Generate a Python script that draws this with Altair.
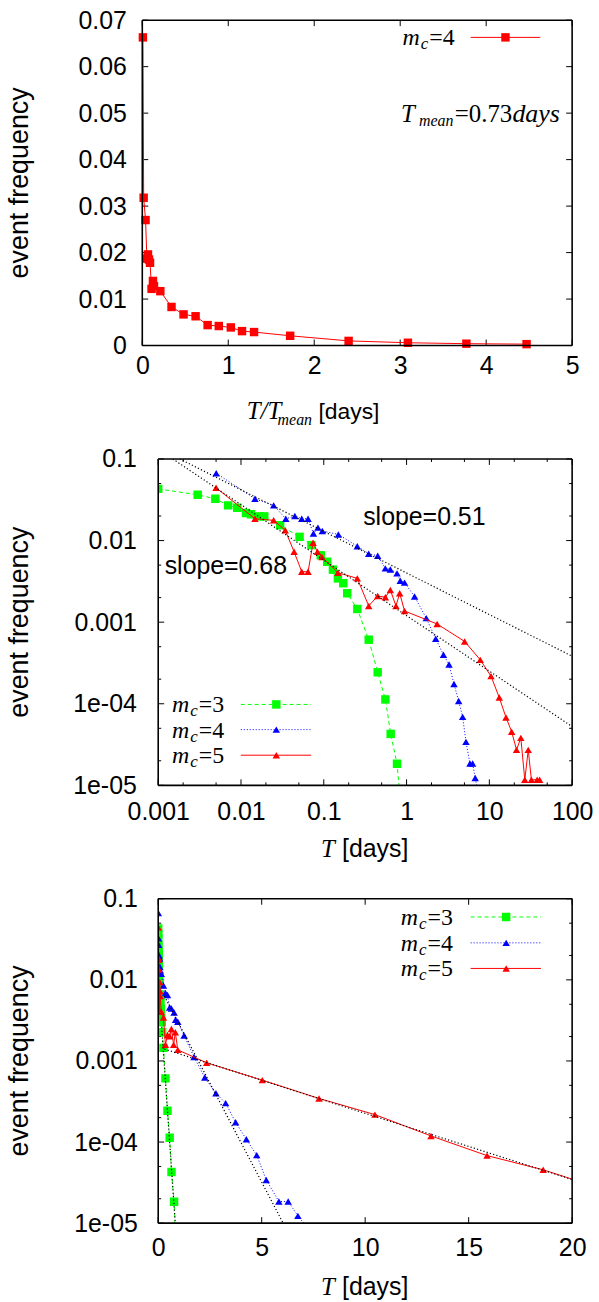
import altair as alt
import pandas as pd

SANS = "Liberation Sans"
SERIF = "Liberation Serif"
FS = 25

# ---------------- data ----------------
# Panel 1: m_c = 4, event frequency vs T/T_mean
p1_t = [0.007, 0.016, 0.038, 0.054, 0.066, 0.078, 0.090, 0.108, 0.124, 0.136,
        0.21, 0.34, 0.48, 0.62, 0.76, 0.89, 1.03, 1.16, 1.30, 1.72,
        2.40, 3.09, 3.77, 4.47]
p1_f = [0.0663, 0.0318, 0.0270, 0.0187, 0.0196, 0.0185, 0.0178, 0.0122, 0.0139, 0.0128,
        0.0117, 0.0083, 0.0067, 0.0063, 0.0044, 0.0042, 0.0039, 0.0031, 0.0029, 0.0021,
        0.0010, 0.0006, 0.0004, 0.0003]

# Panels 2 and 3: event frequency vs T [days]
m3_t = [0.001, 0.0030, 0.0049, 0.0070, 0.0090, 0.0115, 0.0132, 0.0166, 0.0191, 0.0297,
        0.051, 0.071, 0.092, 0.110, 0.129, 0.148, 0.172, 0.192, 0.254, 0.349,
        0.448, 0.555, 0.643, 0.767, 0.86]
m3_f = [0.043, 0.0364, 0.0325, 0.027, 0.0252, 0.0218, 0.021, 0.0198, 0.0198, 0.0154,
        0.0111, 0.0088, 0.0066, 0.0055, 0.0044, 0.00344, 0.0030, 0.00226, 0.00145, 0.00061,
        0.000243, 0.000113, 4.27e-5, 1.84e-5, 5e-6]

m4_t = [0.00502, 0.01476, 0.0248, 0.0348, 0.0447, 0.0542, 0.0646, 0.075, 0.085, 0.096,
        0.150, 0.254, 0.349, 0.448, 0.554, 0.637, 0.767, 0.84, 0.946, 1.25,
        1.73, 2.25, 2.79, 3.26, 3.74, 4.26, 4.76, 5.22, 5.83, 6.28,
        6.75, 7.4]
m4_f = [0.0669, 0.0325, 0.027, 0.0185, 0.020, 0.0185, 0.0185, 0.0122, 0.0144, 0.0131,
        0.0119, 0.0085, 0.0069, 0.0065, 0.00456, 0.00443, 0.00396, 0.00322, 0.00305, 0.00206,
        0.00112, 0.000625, 0.000399, 0.000302, 0.000175, 0.000108, 6.9e-5, 3.41e-5, 1.85e-5, 1.85e-5,
        1.23e-5, 7.6e-6]

m5_t = [0.0050, 0.01476, 0.0248, 0.0342, 0.0438, 0.0542, 0.0646, 0.0742, 0.0838, 0.095,
        0.148, 0.254, 0.349, 0.448, 0.554, 0.637, 0.745, 0.826, 0.946, 2.34,
        5.03, 7.77, 10.47, 13.18, 15.89, 18.6, 21.3, 24.0, 26.8, 29.5,
        32.2, 37.8, 40.5]
m5_f = [0.0443, 0.0185, 0.0177, 0.0134, 0.00728, 0.00415, 0.00415, 0.00938, 0.00728, 0.0063,
        0.00404, 0.00344, 0.00158, 0.00209, 0.00202, 0.00248, 0.00158, 0.00226, 0.00137, 0.00095,
        0.00058, 0.000345, 0.000218, 0.000119, 6.8e-5, 4.55e-5, 2.72e-5, 3.82e-5, 1.17e-5, 2.72e-5,
        1.17e-5, 1.17e-5, 1.17e-5]

# fitted lines (end points)
fit051_t = [0.00182, 100.0]
fit051_f = [0.1, 3.83e-4]
fit068_t = [0.0015, 100.0]
fit068_f = [0.1, 5.25e-5]
fexp3_t = [0.17, 0.83]
fexp3_f = [2.6e-3, 9.5e-6]
fexp4_t = [0.3, 6.1]
fexp4_f = [6.3e-3, 9.3e-6]
fexp5_t = [0.3, 20.0]
fexp5_f = [1.4e-3, 3.45e-5]

# ticks and labels
p1_xticks = [0, 1, 2, 3, 4, 5]
p1_xlabels = ["0", "1", "2", "3", "4", "5"]
p1_yticks = [0, 0.01, 0.02, 0.03, 0.04, 0.05, 0.06, 0.07]
p1_ylabels = ["0", "0.01", "0.02", "0.03", "0.04", "0.05", "0.06", "0.07"]
logx_major = [0.001, 0.01, 0.1, 1, 10, 100]
logx_labels = ["0.001", "0.01", "0.1", "1", "10", "100"]
logx_minor = [0.002, 0.005, 0.02, 0.05, 0.2, 0.5, 2, 5, 20, 50]
logy_major = [1e-5, 1e-4, 1e-3, 1e-2, 1e-1]
logy_labels = ["1e-05", "1e-04", "0.001", "0.01", "0.1"]
logy_minor = [2e-5, 5e-5, 2e-4, 5e-4, 2e-3, 5e-3, 0.02, 0.05]
linx_major = [0, 5, 10, 15, 20]
linx_labels = ["0", "5", "10", "15", "20"]

GREEN = "#00ff00"
BLUE = "#0000ff"
RED = "#ff0000"


def label_expr(vals, labels):
    parts = []
    for v, l in zip(vals, labels):
        tol = abs(v) * 1e-6 + 1e-12
        parts.append(f"abs(datum.value - {v!r}) < {tol!r} ? '{l}'")
    return " : ".join(parts) + " : ''"


def make_axis(vals, labels, pad, offset=0):
    kw = dict(values=vals, labelExpr=label_expr(vals, labels), ticks=False,
              domain=False, grid=False, labelFont=SANS, labelFontSize=FS,
              labelColor="black", labelPadding=pad, labelFlush=False,
              labelOverlap=False, title=None)
    if offset:
        kw["offset"] = offset
    return alt.Axis(**kw)


one = pd.DataFrame({"a": [0]})


def txt(s, x, y, size=FS, font=SANS, style="normal", align="left",
        baseline="alphabetic", angle=0):
    kw = dict(text=s, font=font, fontSize=size, fontStyle=style, align=align,
              baseline=baseline, color="black")
    if angle:
        kw["angle"] = angle
    return alt.Chart(one).mark_text(**kw).encode(x=alt.value(x), y=alt.value(y))


def mc_label(xr, yc, digit, size=24, sub=17):
    base = yc + 8
    w_eq = 1.064 * size
    return [txt("=" + digit, xr, base, size, SERIF, "normal", "right"),
            txt("c", xr - w_eq - 1, base + 4, sub, SERIF, "italic", "right"),
            txt("m", xr - w_eq - 0.444 * sub - 2, base, size, SERIF, "italic", "right")]


def legend_sample(x1, x2, xm, yc, color, shape, size, dash=None):
    rk = dict(color=color, strokeWidth=1)
    if dash:
        rk["strokeDash"] = dash
    line = alt.Chart(one).mark_rule(**rk).encode(
        x=alt.value(x1), x2=alt.value(x2), y=alt.value(yc))
    pt = alt.Chart(one).mark_point(shape=shape, filled=True, size=size, color=color,
                                   opacity=1).encode(x=alt.value(xm), y=alt.value(yc))
    return [line, pt]


def series(t, f, color, shape, size, XE, YE, dash=None, clip=True):
    df = pd.DataFrame({"T": t, "f": f, "i": list(range(len(t)))})
    lk = dict(color=color, strokeWidth=1, clip=clip)
    if dash:
        lk["strokeDash"] = dash
    line = alt.Chart(df).mark_line(**lk).encode(x=XE, y=YE, order="i:Q")
    pts = alt.Chart(df).mark_point(shape=shape, filled=True, size=size, color=color,
                                   opacity=1, clip=clip).encode(x=XE, y=YE)
    return [line, pts]


def fit(t, f, XE, YE):
    df = pd.DataFrame({"T": t, "f": f, "i": [0, 1]})
    return alt.Chart(df).mark_line(color="black", strokeWidth=1.2, strokeDash=[1.2, 2.2],
                                   clip=True).encode(x=XE, y=YE, order="i:Q")


def tick_layers(x0, W, H, XE, YE, xmaj, xmin, ymaj, ymin, L=6, l=3):
    out = []
    for vals, ln in ((xmaj, L), (xmin, l)):
        if not vals:
            continue
        df = pd.DataFrame({"T": vals})
        out.append(alt.Chart(df).mark_rule(color="black", strokeWidth=1).encode(
            x=XE, y=alt.value(H), y2=alt.value(H - ln)))
        out.append(alt.Chart(df).mark_rule(color="black", strokeWidth=1).encode(
            x=XE, y=alt.value(0), y2=alt.value(ln)))
    for vals, ln in ((ymaj, L), (ymin, l)):
        if not vals:
            continue
        df = pd.DataFrame({"f": vals})
        out.append(alt.Chart(df).mark_rule(color="black", strokeWidth=1).encode(
            y=YE, x=alt.value(x0), x2=alt.value(x0 + ln)))
        out.append(alt.Chart(df).mark_rule(color="black", strokeWidth=1).encode(
            y=YE, x=alt.value(W), x2=alt.value(W - ln)))
    return out


def frame(x0, W, H):
    def r(xa, ya, xb, yb):
        return alt.Chart(one).mark_rule(color="black", strokeWidth=1.6).encode(
            x=alt.value(xa), y=alt.value(ya), x2=alt.value(xb), y2=alt.value(yb))
    return [r(x0, 0, W, 0), r(x0, H, W, H), r(x0, 0, x0, H), r(W, 0, W, H)]


def bounds_box(W, H, left, top, bottom):
    return alt.Chart(one).mark_rule(opacity=0).encode(
        x=alt.value(-left), y=alt.value(-top), x2=alt.value(W), y2=alt.value(H + bottom))


TOP = 16
LEFT = 152

# ---------------- panel 1 ----------------
# plot area starts 16 px left of the common origin used by panels 2 and 3
X0 = -16
W1, H1 = 416, 327
xs1 = alt.Scale(domain=[0, 5], nice=False, zero=False, range=[X0, W1])
ys1 = alt.Scale(domain=[0, 0.07], nice=False, zero=False)
XE1 = alt.X("T:Q", scale=xs1, axis=make_axis(p1_xticks, p1_xlabels, 8))
YE1 = alt.Y("f:Q", scale=ys1, axis=make_axis(p1_yticks, p1_ylabels, 16, -X0))
L1 = tick_layers(X0, W1, H1, XE1, YE1, p1_xticks, [], p1_yticks, [])
L1 += series(p1_t, p1_f, RED, "square", 72, XE1, YE1, clip=False)
L1 += frame(X0, W1, H1)
L1 += mc_label(298, 17.3, "4")
L1 += legend_sample(314, 384, 349, 17.3, RED, "square", 72)
L1 += [txt("T", 244, 102, 25, SERIF, "italic"),
       txt("mean", 262, 106, 16, SERIF, "italic"),
       txt("=0.73", 298, 102, 25, SERIF),
       txt("days", 356, 102, 26, SERIF, "italic")]
L1 += [txt("T/T", 89, H1 + 74, 25, SERIF, "italic"),
       txt("mean", 120, H1 + 79.5, 16, SERIF, "italic"),
       txt("[days]", 161, H1 + 74, 23, SANS)]
L1 += [txt("event frequency", -139, H1 / 2, 27, SANS, "normal", "center", "middle", 270)]
L1 += [bounds_box(W1, H1, LEFT, TOP, 85)]
p1 = alt.layer(*L1).properties(width=W1, height=H1)

# ---------------- panel 2 ----------------
W2, H2 = 416, 328
xs2 = alt.Scale(type="log", domain=[0.001, 100], nice=False)
ys2 = alt.Scale(type="log", domain=[1e-5, 0.1], nice=False)
XE2 = alt.X("T:Q", scale=xs2, axis=make_axis(logx_major, logx_labels, 14))
YE2 = alt.Y("f:Q", scale=ys2, axis=make_axis(logy_major, logy_labels, 22))
L2 = tick_layers(0, W2, H2, XE2, YE2, logx_major, logx_minor, logy_major, logy_minor)
L2 += series(m3_t, m3_f, GREEN, "square", 72, XE2, YE2, [4, 3])
L2 += series(m4_t, m4_f, BLUE, "triangle-up", 56, XE2, YE2, [1, 2])
L2 += series(m5_t, m5_f, RED, "triangle-up", 56, XE2, YE2)
L2 += [fit(fit051_t, fit051_f, XE2, YE2), fit(fit068_t, fit068_f, XE2, YE2)]
L2 += frame(0, W2, H2)
L2 += [txt("slope=0.51", 206, 66.5), txt("slope=0.68", 6.5, 116)]
for yc, d, col, shp, sz, dash in ((246.7, "3", GREEN, "square", 72, [4, 3]),
                                  (272.0, "4", BLUE, "triangle-up", 56, [1, 2]),
                                  (297.7, "5", RED, "triangle-up", 56, None)):
    L2 += mc_label(66.3, yc, d)
    L2 += legend_sample(83, 153.7, 118.7, yc, col, shp, sz, dash)
L2 += [txt("T", 163.7, H2 + 72, 25, SERIF, "italic"),
       txt("[days]", 184.7, H2 + 72, FS, SANS)]
L2 += [txt("event frequency", -139, H2 / 2, 27, SANS, "normal", "center", "middle", 270)]
L2 += [bounds_box(W2, H2, LEFT, TOP, 85)]
p2 = alt.layer(*L2).properties(width=W2, height=H2)

# ---------------- panel 3 ----------------
W3, H3 = 416, 326
xs3 = alt.Scale(domain=[0, 20], nice=False, zero=False)
ys3 = alt.Scale(type="log", domain=[1e-5, 0.1], nice=False)
XE3 = alt.X("T:Q", scale=xs3, axis=make_axis(linx_major, linx_labels, 13))
YE3 = alt.Y("f:Q", scale=ys3, axis=make_axis(logy_major, logy_labels, 21))
L3 = tick_layers(0, W3, H3, XE3, YE3, linx_major, [], logy_major, logy_minor)
L3 += series(m3_t, m3_f, GREEN, "square", 72, XE3, YE3, [4, 3])
L3 += series(m4_t, m4_f, BLUE, "triangle-up", 56, XE3, YE3, [1, 2])
L3 += series(m5_t, m5_f, RED, "triangle-up", 56, XE3, YE3)
L3 += [fit(fexp3_t, fexp3_f, XE3, YE3), fit(fexp4_t, fexp4_f, XE3, YE3),
       fit(fexp5_t, fexp5_f, XE3, YE3)]
L3 += frame(0, W3, H3)
for yc, d, col, shp, sz, dash in ((18.3, "3", GREEN, "square", 72, [4, 3]),
                                  (44.3, "4", BLUE, "triangle-up", 56, [1, 2]),
                                  (70.0, "5", RED, "triangle-up", 56, None)):
    L3 += mc_label(296.3, yc, d)
    L3 += legend_sample(314, 384.7, 349.7, yc, col, shp, sz, dash)
L3 += [txt("T", 163.7, H3 + 72, 25, SERIF, "italic"),
       txt("[days]", 184.7, H3 + 72, FS, SANS)]
L3 += [txt("event frequency", -139, H3 / 2, 27, SANS, "normal", "center", "middle", 270)]
L3 += [bounds_box(W3, H3, LEFT, TOP, 77)]
p3 = alt.layer(*L3).properties(width=W3, height=H3)

chart = alt.vconcat(p1, p2, p3, spacing=11).properties(
    padding={"left": 5, "top": 0, "right": 5, "bottom": 4}
).configure_view(stroke="transparent")

chart.save("out.html", embed_options={"renderer": "svg", "actions": False})
